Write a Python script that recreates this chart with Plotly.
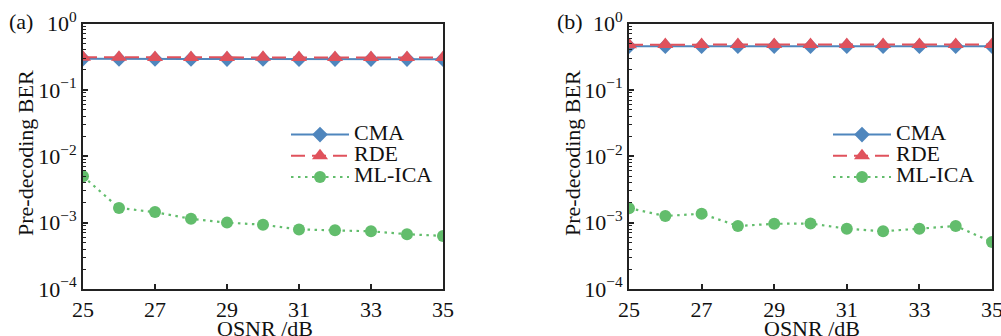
import plotly.graph_objects as go

osnr = [25, 26, 27, 28, 29, 30, 31, 32, 33, 34, 35]

cma_a = [0.295, 0.292, 0.292, 0.292, 0.291, 0.292, 0.290, 0.291, 0.291, 0.291, 0.290]
rde_a = [0.310, 0.310, 0.308, 0.308, 0.308, 0.309, 0.307, 0.308, 0.308, 0.308, 0.307]
mlica_a = [5.0e-3, 1.66e-3, 1.44e-3, 1.14e-3, 1.0e-3, 0.93e-3, 0.79e-3, 0.77e-3, 0.74e-3, 0.67e-3, 0.63e-3]

cma_b = [0.455, 0.455, 0.455, 0.455, 0.456, 0.454, 0.455, 0.455, 0.455, 0.455, 0.455]
rde_b = [0.480, 0.482, 0.482, 0.481, 0.484, 0.481, 0.481, 0.482, 0.481, 0.482, 0.481]
mlica_b = [1.65e-3, 1.26e-3, 1.36e-3, 0.89e-3, 0.96e-3, 0.97e-3, 0.81e-3, 0.74e-3, 0.81e-3, 0.89e-3, 0.51e-3]

xticks = [25, 27, 29, 31, 33, 35]
yticks = [1e-4, 1e-3, 1e-2, 1e-1, 1]
yticktext = ["10<sup>\u22124</sup>", "10<sup>\u22123</sup>", "10<sup>\u22122</sup>", "10<sup>\u22121</sup>", "10<sup>0</sup>"]

series_names = ["CMA", "RDE", "ML-ICA"]
x_title = "OSNR /dB"
y_title = "Pre-decoding BER"
panel_labels = ["(a)", "(b)"]

BLUE = "#4f86bd"
RED = "#e0525c"
GREEN = "#62bd6c"
FONT = "Liberation Serif"
FS = 22
TXT = "#111"

fig = go.Figure()

panels = [
    ("x", "y", "legend", cma_a, rde_a, mlica_a),
    ("x2", "y2", "legend2", cma_b, rde_b, mlica_b),
]

def lname(s):
    return '<span style="font-size:%dpx">%s</span>' % (FS, s)

for xa, ya, lg, cma, rde, ml in panels:
    fig.add_trace(go.Scatter(x=osnr, y=cma, name=lname(series_names[0]), xaxis=xa, yaxis=ya, legend=lg,
                             mode="lines+markers", line=dict(color=BLUE, width=2),
                             marker=dict(symbol="diamond", size=12, color=BLUE)))
    fig.add_trace(go.Scatter(x=osnr, y=rde, name=lname(series_names[1]), xaxis=xa, yaxis=ya, legend=lg,
                             mode="lines+markers", line=dict(color=RED, width=2, dash="14px,7px"),
                             marker=dict(symbol="triangle-up", size=14, color=RED)))
    fig.add_trace(go.Scatter(x=osnr, y=ml, name=lname(series_names[2]), xaxis=xa, yaxis=ya, legend=lg,
                             mode="lines+markers", line=dict(color=GREEN, width=2.2, dash="2.5px,4.5px"),
                             marker=dict(symbol="circle", size=12, color=GREEN)))

W, H = 1001, 336
top, bot = 23.5, 289
ydom = [1 - bot / H, 1 - top / H]

def xaxis_cfg(d0, d1, anchor):
    return dict(domain=[d0 / W, d1 / W], anchor=anchor, range=[25, 35], tickvals=xticks,
                ticks="inside", ticklen=5, tickwidth=1.5, tickcolor="#222",
                showline=True, linecolor="#222", linewidth=2, mirror=True,
                showgrid=False, zeroline=False, automargin=False, ticklabeloverflow="allow",
                tickfont=dict(family=FONT, size=FS, color=TXT))

def yaxis_cfg(anchor):
    return dict(domain=ydom, anchor=anchor, type="log", range=[-4, 0], tickvals=yticks,
                ticktext=yticktext, ticks="inside", ticklen=5, tickwidth=1.5, tickcolor="#222",
                minor=dict(ticks="inside", ticklen=3, tickcolor="#222", tickwidth=1, dtick="D1", showgrid=False),
                showline=True, linecolor="#222", linewidth=2, mirror=True,
                showgrid=False, zeroline=False, automargin=False, ticklabeloverflow="allow",
                tickfont=dict(family=FONT, size=FS, color=TXT))

legend_common = dict(font=dict(family=FONT, size=14, color=TXT), bgcolor="rgba(0,0,0,0)",
                     itemwidth=58, tracegroupgap=0, xanchor="left", yanchor="middle")

def ann(text, x, y, angle=0, xanchor="center"):
    return dict(text=text, x=x / W, y=1 - y / H, xref="paper", yref="paper", xanchor=xanchor,
                yanchor="middle", showarrow=False, textangle=angle,
                font=dict(family=FONT, size=FS, color=TXT))

fig.update_layout(
    width=W, height=H, margin=dict(l=0, r=0, t=0, b=0),
    paper_bgcolor="white", plot_bgcolor="white",
    font=dict(family=FONT, size=FS, color=TXT),
    xaxis=xaxis_cfg(83, 443, "y"),
    yaxis=yaxis_cfg("x"),
    xaxis2=xaxis_cfg(629, 992, "y2"),
    yaxis2=yaxis_cfg("x2"),
    legend=dict(x=286 / W, y=1 - 156 / H, **legend_common),
    legend2=dict(x=828 / W, y=1 - 156 / H, **legend_common),
    annotations=[
        ann(panel_labels[0], 7, 22, xanchor="left"),
        ann(panel_labels[1], 555, 22, xanchor="left"),
        ann(x_title, 265, 328),
        ann(x_title, 812, 328),
        ann(y_title, 26, 153, angle=-90),
        ann(y_title, 573, 153, angle=-90),
    ],
)

fig.write_html("out.html", config={"displayModeBar": False},
               post_script="document.body.style.margin='0';document.body.style.overflow='hidden';")
